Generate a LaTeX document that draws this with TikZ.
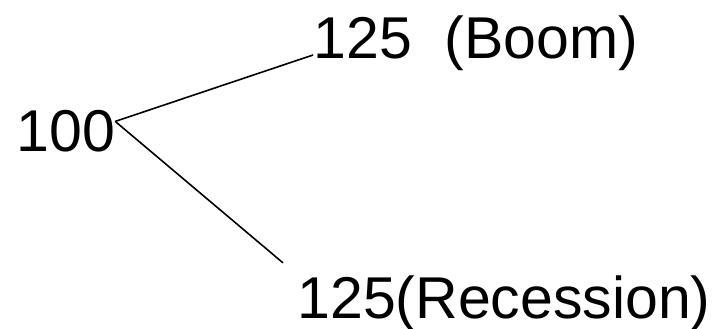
\documentclass[tikz,border=0pt]{standalone}
\usepackage{fontspec}
\setmainfont{Liberation Sans}
\usepackage{tikz}

\begin{document}
\begin{tikzpicture}[x=0.5pt, y=-0.5pt,
    val/.style={font=\fontsize{29.5}{36}\selectfont, inner sep=0pt, anchor=base west},
    branch/.style={line width=0.8pt, black}]

% Frame
\useasboundingbox (0, 0) rectangle (722, 328);

% Values
\node[val] (start) at (16, 151) {100};
\node[val] (boom) at (313, 58) {125~~(Boom)};
\node[val] (recession) at (297, 318) {125(Recession)};

% Branches
\coordinate (fork) at ([yshift=-6pt]start.north east);
\draw[branch] (fork) -- ([yshift=1.5pt]boom.base west);
\draw[branch] (fork) -- ([xshift=-7pt, yshift=6pt]recession.north west);

\end{tikzpicture}
\end{document}
